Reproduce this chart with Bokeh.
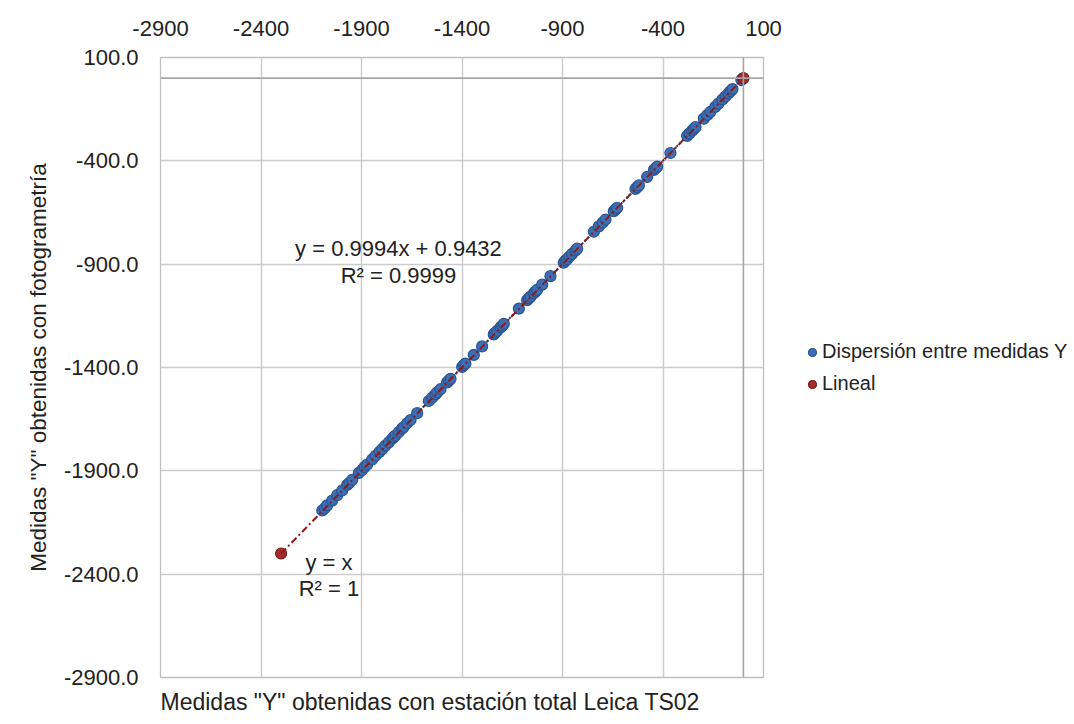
from bokeh.plotting import figure
from bokeh.models import (Range1d, FixedTicker, NumeralTickFormatter, Span, Label,
                          Legend, LegendItem, Title)
from bokeh.embed import file_html
from bokeh.resources import INLINE

# ---- data ----
x_ts = [-2095, -2083, -2071, -2046, -2021, -1996, -1971, -1960, -1946, -1913,
        -1897, -1885, -1872, -1847, -1830, -1810, -1797, -1781, -1764, -1747,
        -1740, -1731, -1714, -1698, -1690, -1673, -1656, -1623, -1565, -1548,
        -1532, -1523, -1507, -1474, -1465, -1457, -1399, -1391, -1383, -1341,
        -1300, -1242, -1235, -1225, -1208, -1200, -1192, -1117, -1076, -1068,
        -1059, -1043, -1035, -1026, -1001, -960, -894, -885, -877, -865,
        -852, -835, -827, -744, -719, -700, -686, -645, -636, -628,
        -537, -528, -520, -479, -445, -437, -429, -363, -280, -268,
        -255, -247, -238, -197, -180, -164, -140, -124, -104, -89,
        -74, -64, -54, -10, -3]
y_foto = [-2092, -2081, -2067, -2044, -2018, -1995, -1968, -1958, -1944, -1910,
          -1896, -1882, -1870, -1845, -1827, -1808, -1795, -1778, -1762, -1745,
          -1737, -1729, -1712, -1696, -1688, -1670, -1654, -1621, -1562, -1546,
          -1530, -1520, -1505, -1472, -1463, -1455, -1397, -1388, -1381, -1339,
          -1298, -1240, -1232, -1223, -1206, -1198, -1189, -1115, -1074, -1066,
          -1057, -1041, -1033, -1024, -999, -958, -893, -883, -876, -863,
          -850, -834, -825, -743, -717, -699, -684, -644, -635, -627,
          -536, -527, -519, -478, -444, -436, -428, -362, -279, -267,
          -254, -246, -237, -196, -179, -163, -139, -123, -103, -88,
          -73, -63, -53, -9, -2]
lin_x = [-2300, 0]
lin_y = [-2300, 0]
slope, intercept = 0.9994, 0.9432
x_ticks = [-2900, -2400, -1900, -1400, -900, -400, 100]
y_ticks = [-2900, -2400, -1900, -1400, -900, -400, 100]

FONT = "Liberation Sans"
TXT = "#222222"

p = figure(frame_width=603, frame_height=620,
           min_border_left=160, min_border_right=311,
           min_border_top=57, min_border_bottom=47,
           x_range=Range1d(-2900, 100), y_range=Range1d(-2900, 100),
           x_axis_location="above", y_axis_location="left",
           output_backend="svg", toolbar_location=None,
           background_fill_color="white", border_fill_color="white")

p.outline_line_color = "#bfbfbf"
p.outline_line_width = 1.3

for ax in (p.xaxis[0], p.yaxis[0]):
    ax.axis_line_color = None
    ax.major_tick_line_color = None
    ax.minor_tick_line_color = None
    ax.major_label_text_font = FONT
    ax.major_label_text_font_size = "22px"
    ax.major_label_text_color = TXT

p.xaxis[0].ticker = FixedTicker(ticks=x_ticks)
p.yaxis[0].ticker = FixedTicker(ticks=y_ticks)
p.xaxis[0].formatter = NumeralTickFormatter(format="0")
p.yaxis[0].formatter = NumeralTickFormatter(format="0.0")
p.xaxis[0].major_label_standoff = 16
p.yaxis[0].major_label_standoff = 16

p.yaxis[0].axis_label = 'Medidas "Y" obtenidas con fotogrametría'
p.yaxis[0].axis_label_text_font = FONT
p.yaxis[0].axis_label_text_font_size = "22.5px"
p.yaxis[0].axis_label_text_font_style = "normal"
p.yaxis[0].axis_label_text_color = TXT
p.yaxis[0].axis_label_standoff = 10

p.xgrid.ticker = FixedTicker(ticks=x_ticks)
p.ygrid.ticker = FixedTicker(ticks=y_ticks)
p.xgrid.grid_line_color = "#cccccc"
p.ygrid.grid_line_color = "#cccccc"
p.xgrid.grid_line_width = 1.5
p.ygrid.grid_line_width = 1.5

# axis lines crossing at zero
p.add_layout(Span(location=0, dimension="height", line_color="#a6a6a6", line_width=1.6))
p.add_layout(Span(location=0, dimension="width", line_color="#a6a6a6", line_width=1.6))

# blue series trendline
tx = [min(x_ts), max(x_ts)]
ty = [slope * v + intercept for v in tx]
p.line(tx, ty, line_color="#1f3864", line_width=2, line_dash="2 2")

blue = p.scatter(x_ts, y_foto, size=11, marker="circle",
                 fill_color="#3d6db2", line_color="#2b5592", line_width=1.2)
red = p.scatter(lin_x, lin_y, size=11, marker="circle",
                fill_color="#a52a2a", line_color="#7a1c1c", line_width=1.2)
# Lineal trendline (dash-dot)
p.line(lin_x, lin_y, line_color="#8b1a1a", line_width=2, line_dash="7 3 2 3")

# equations
def lab(x, y, t, align="center"):
    p.add_layout(Label(x=x, y=y, text=t, text_align=align, text_baseline="middle",
                       text_font=FONT, text_font_size="22px", text_color=TXT))

lab(-1716, -824, "y = 0.9994x + 0.9432")
lab(-1716, -955, "R² = 0.9999")
lab(-2062, -2344, "y = x")
lab(-2062, -2470, "R² = 1")

# x-axis title below the plot area
p.add_layout(Title(text='Medidas "Y" obtenidas con estación total Leica TS02',
                   align="left", offset=0, standoff=18,
                   text_font=FONT, text_font_size="23px",
                   text_font_style="normal", text_color=TXT), "below")

legend = Legend(items=[LegendItem(label="Dispersión entre medidas Y", renderers=[blue]),
                       LegendItem(label="Lineal", renderers=[red])],
                location=(39, 282))
legend.padding = 0
legend.margin = 0
legend.spacing = 9
legend.glyph_width = 20
legend.glyph_height = 20
legend.label_height = 20
legend.label_standoff = 0
legend.label_text_font = FONT
legend.label_text_font_size = "20px"
legend.label_text_color = TXT
legend.border_line_color = None
legend.background_fill_alpha = 0
p.add_layout(legend, "right")

open("out.html", "w").write(file_html(p, INLINE))
